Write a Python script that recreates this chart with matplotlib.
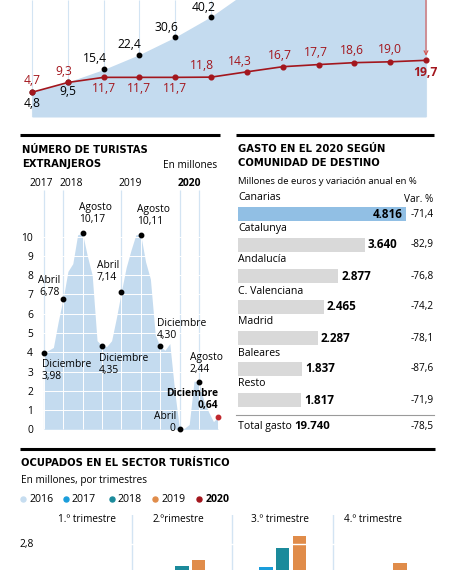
import matplotlib
matplotlib.use("Agg")
import matplotlib.pyplot as plt
from matplotlib import font_manager as fm
import numpy as np

W, H = 449, 570
BODY = ["Open Sans", "DejaVu Sans"]

# fuente de titulos: condensada si la hay
fuentes = fm.fontManager.ttflist
nombres = {f.name for f in fuentes}
if "Liberation Sans Narrow" in nombres:
    TIT_KW = dict(family=["Liberation Sans Narrow", "DejaVu Sans"], fontsize=9)
elif any(f.name == "DejaVu Sans" and f.stretch == "condensed" for f in fuentes):
    TIT_KW = dict(family=["DejaVu Sans"], fontstretch="condensed", fontsize=8.0)
else:
    TIT_KW = dict(family=["Lato", "DejaVu Sans"], fontsize=8.2)

# colores
AZUL_AREA = "#c4dbef"
AZUL_REJ = "#d3e4f3"
ROJO = "#a3161d"
ROJO_FLECHA = "#d4544f"
AZUL_BARRA = "#91bfe4"
GRIS_BARRA = "#d9d9d9"

# ---------------- datos ----------------
# grafico superior (dos series, 12 puntos)
serie_negra = [4.8, 9.5, 15.4, 22.4, 30.6, 40.2, 52.0, 65.0, 79.0, 95.0, 112.0, 130.0]
serie_roja = [4.7, 9.3, 11.7, 11.7, 11.7, 11.8, 14.3, 16.7, 17.7, 18.6, 19.0, 19.7]
etiq_roja = ["4,7", "9,3", "11,7", "11,7", "11,7", "11,8", "14,3", "16,7", "17,7", "18,6", "19,0", "19,7"]
etiq_negra = ["4,8", "9,5", "15,4", "22,4", "30,6", "40,2"]

# turistas extranjeros, mensual dic 2017 - dic 2020 (millones)
turistas = [3.98,
            4.10, 4.25, 5.60, 6.78, 8.20, 8.60, 10.10, 10.17, 9.00, 8.00, 4.60, 4.35,
            4.30, 4.60, 5.80, 7.14, 8.40, 9.30, 10.10, 10.11, 8.70, 7.80, 4.90, 4.30,
            4.10, 4.45, 2.00, 0.00, 0.05, 0.25, 2.50, 2.44, 1.50, 0.90, 0.40, 0.64]
anios = ["2017", "2018", "2019", "2020"]
destacados_mes = [0, 4, 8, 12, 16, 20, 24, 28, 32, 36]
destacados_txt = ["Diciembre\n3,98", "Abril\n6,78", "Agosto\n10,17", "Diciembre\n4,35",
                  "Abril\n7,14", "Agosto\n10,11", "Diciembre\n4,30", "Abril",
                  "Agosto\n2,44", "Diciembre\n0,64"]

# gasto por comunidad 2020
comunidades = ["Canarias", "Catalunya", "Andalucía", "C. Valenciana", "Madrid", "Baleares", "Resto"]
gasto = [4816, 3640, 2877, 2465, 2287, 1837, 1817]
gasto_txt = ["4.816", "3.640", "2.877", "2.465", "2.287", "1.837", "1.817"]
variacion = ["-71,4", "-82,9", "-76,8", "-74,2", "-78,1", "-87,6", "-71,9"]
total_txt = "19.740"
total_var = "-78,5"

# ocupados sector turistico (millones, por trimestre)
trimestres = ["1.º trimestre", "2.ºrimestre", "3.º trimestre", "4.º trimestre"]
anios_ocup = ["2016", "2017", "2018", "2019", "2020"]
colores_ocup = ["#c6ddf0", "#1a9ddb", "#1b8a9b", "#e08c4a", ROJO]
ocup_2016 = [2.15, 2.40, 2.50, 2.30]
ocup_2017 = [2.25, 2.50, 2.573, 2.40]
ocup_2018 = [2.35, 2.58, 2.757, 2.48]
ocup_2019 = [2.40, 2.64, 2.88, 2.613]
ocup_2020 = [2.20, 1.75, 2.05, 2.00]


def caja(izq, arriba, ancho, alto):
    return [izq / W, 1 - (arriba + alto) / H, ancho / W, alto / H]


fig = plt.figure(figsize=(W / 100, H / 100), dpi=100)
fig.patch.set_facecolor("white")

# ---------------- grafico superior ----------------
ax1 = fig.add_axes(caja(20, 0, 420, 117))
paso = 394 / 11
ax1.set_xlim(-12 / paso, 408 / paso)
ax1.set_ylim(-6.9, 48.0)
ax1.axis("off")
x1 = np.arange(len(serie_negra))
ax1.vlines(x1, -6.9, 48.0, color=AZUL_REJ, lw=0.8, zorder=0)
ax1.fill_between(x1, -6.9, serie_negra, color=AZUL_AREA, lw=0, zorder=1)
ax1.plot(x1[:len(etiq_negra)], serie_negra[:len(etiq_negra)], "o", color="black", ms=3.2, zorder=3)
ax1.plot(x1, serie_roja, "-o", color=ROJO, lw=1.2, ms=3.4, zorder=4)
ax1.annotate("", xy=(x1[-1], 21.8), xytext=(x1[-1], 48.5),
             arrowprops=dict(arrowstyle="->", color=ROJO_FLECHA, lw=0.8,
                             shrinkA=0, shrinkB=0, mutation_scale=7), zorder=5)

off_roja = [(0, 11.3), (-3.7, 10.7), (0, -11.3), (0, -11.3), (0, -11.3), (-9.3, 12),
            (-7, 10.3), (-3, 11.3), (-3, 11.7), (-2.3, 12), (-0.7, 12.4), (-1, -11.7)]
for i, (txt, off) in enumerate(zip(etiq_roja, off_roja)):
    ax1.annotate(txt, (x1[i], serie_roja[i]), xytext=off, textcoords="offset pixels",
                 ha="center", va="center", color=ROJO, fontsize=8.7, family=BODY,
                 fontweight="bold" if i == len(etiq_roja) - 1 else "normal", zorder=6)
off_negra = [(0, -11.7), (0, -9), (-9, 11.3), (-10, 9.6), (-8.7, 9.3), (-7.7, 9.3)]
for i, (txt, off) in enumerate(zip(etiq_negra, off_negra)):
    ax1.annotate(txt, (x1[i], serie_negra[i]), xytext=off, textcoords="offset pixels",
                 ha="center", va="center", color="black", fontsize=8.7, family=BODY, zorder=6)

# ---------------- turistas extranjeros ----------------
mes_px = 174.6 / 36
ax2 = fig.add_axes(caja(40, 186, 182, 248))
ax2.set_xlim(-3.7 / mes_px, 178.3 / mes_px)
ax2.set_ylim(-0.244, 12.63)
for s in ax2.spines.values():
    s.set_visible(False)
x2 = np.arange(len(turistas))
ax2.fill_between(x2, 0, turistas, color=AZUL_AREA, lw=0, zorder=1)
for k in range(1, 11):
    ax2.axhline(k, color="white", lw=0.7, zorder=2)
ax2.vlines([0, 4, 16, 28, 32], 0, 12.42, color=AZUL_REJ, lw=0.9, zorder=0)
ax2.vlines(destacados_mes, 0, [turistas[m] for m in destacados_mes], color="white", lw=0.7, zorder=2)
ax2.plot(destacados_mes[:-1], [turistas[m] for m in destacados_mes[:-1]], "o",
         color="black", ms=3.2, zorder=4)
ax2.plot(destacados_mes[-1], turistas[destacados_mes[-1]], "o", color="#c0282d", ms=3.2, zorder=4)
ax2.set_xticks([])
ax2.set_yticks(range(0, 11))
ax2.set_yticklabels([str(k) for k in range(0, 11)], family=BODY, fontsize=7.4)
ax2.tick_params(axis="y", length=0, pad=5)

off_tur = [((-2, -17.5), "left"), ((-13.8, 12), "center"), ((-3.5, 20), "left"),
           ((-2.6, -18.7), "left"), ((-24.6, 20.6), "left"), ((-4, 19.4), "left"),
           ((-2.8, 17.3), "left"), ((-3, 13.2), "right"), ((-8.9, 19), "left"),
           ((0, 17.8), "right")]
for m, txt, (off, ha) in zip(destacados_mes, destacados_txt, off_tur):
    ax2.annotate(txt, (m, turistas[m]), xytext=off, textcoords="offset pixels",
                 ha=ha, va="center", multialignment=ha, family=BODY, linespacing=1.15,
                 fontsize=7.4, fontweight="bold" if m == 36 else "normal", zorder=6)
ax2.annotate("0", (28, turistas[28]), xytext=(-4, 0.5), textcoords="offset pixels",
             ha="right", va="center", fontsize=7.4, family=BODY, zorder=6)

# ---------------- gasto por comunidad ----------------
esc = 0.0348
ax3 = fig.add_axes(caja(238, 190, 202, 220))
ax3.set_xlim(0, 202 / esc)
ax3.set_ylim(196 / 31, -24 / 31)
ax3.axis("off")
filas = np.arange(len(comunidades))
colores_b = [AZUL_BARRA] + [GRIS_BARRA] * (len(comunidades) - 1)
ax3.barh(filas, gasto, height=13.3 / 31, color=colores_b, lw=0)
x_var = (434 - 238) / esc
for r in filas:
    ax3.text(0, r - 16 / 31, comunidades[r], ha="left", va="center", fontsize=7.6, family=BODY)
    if r == 0:
        ax3.annotate(gasto_txt[r], (gasto[r], r), xytext=(-3, 0), textcoords="offset pixels",
                     ha="right", va="center", fontsize=8.4, fontweight="bold", family=BODY)
    else:
        ax3.annotate(gasto_txt[r], (gasto[r], r), xytext=(3, 0), textcoords="offset pixels",
                     ha="left", va="center", fontsize=8.4, fontweight="bold", family=BODY)
    ax3.text(x_var, r, variacion[r], ha="right", va="center", fontsize=7.2, family=BODY)

# ---------------- ocupados sector turistico ----------------
g_px = 100.6
ax4 = fig.add_axes(caja(20, 515, 415, 55))
ax4.set_xlim(-61.5 / g_px, 353.5 / g_px)
ax4.set_ylim(2.54, 3.09)
ax4.axis("off")
g = np.arange(len(trimestres))
series_ocup = [ocup_2016, ocup_2017, ocup_2018, ocup_2019, ocup_2020]
for j, (vals, col) in enumerate(zip(series_ocup, colores_ocup)):
    ax4.bar(g + (j - 2) * 16.7 / g_px, vals, width=13.3 / g_px, color=col, lw=0, zorder=1)
ax4.vlines(g[:-1] + 0.5, 0, 5, color=AZUL_REJ, lw=1, zorder=0)
ax4.axhline(2.8, color="white", lw=1, zorder=2)
ax4.text(-55 / g_px, 2.8, "2,8", ha="center", va="center", fontsize=7.4, family=BODY)

# ---------------- textos y reglas ----------------
ov = fig.add_axes([0, 0, 1, 1], zorder=10)
ov.set_xlim(0, W)
ov.set_ylim(H, 0)
ov.axis("off")

ov.plot([20, 220], [135, 135], color="black", lw=2.2, solid_capstyle="butt")
ov.plot([236, 434], [135, 135], color="black", lw=2.2, solid_capstyle="butt")
ov.plot([20, 435], [448.7, 448.7], color="black", lw=2.2, solid_capstyle="butt")
ov.plot([236, 434], [415, 415], color="#9a9a9a", lw=0.8)

tit = dict(fontweight="bold", va="center", ha="left", **TIT_KW)
ov.text(22, 150, "NÚMERO DE TURISTAS", **tit)
ov.text(22, 164.3, "EXTRANJEROS", **tit)
ov.text(217.5, 166, "En millones", ha="right", va="center", fontsize=7.2, family=BODY)
for txt, xp in zip(anios, [41.7, 71.7, 130, 189.3]):
    ov.text(xp, 183, txt, ha="center", va="center", fontsize=7.4, family=BODY,
            fontweight="bold" if txt == "2020" else "normal")

ov.text(238, 149, "GASTO EN EL 2020 SEGÚN", **tit)
ov.text(238, 163.3, "COMUNIDAD DE DESTINO", **tit)
ov.text(238, 181.7, "Millones de euros y variación anual en %", ha="left", va="center",
        fontsize=6.8, family=BODY)
ov.text(433.5, 200, "Var. %", ha="right", va="center", fontsize=7.2, family=BODY)
t_total = ov.text(238, 426.7, "Total gasto ", ha="left", va="center", fontsize=7.6, family=BODY)
ov.annotate(total_txt, xy=(1, 0), xycoords=t_total, ha="left", va="bottom",
            fontsize=8.2, fontweight="bold", family=BODY)
ov.text(434, 426.7, total_var, ha="right", va="center", fontsize=7.2, family=BODY)

ov.text(21, 463.3, "OCUPADOS EN EL SECTOR TURÍSTICO", **tit)
ov.text(21, 480.7, "En millones, por trimestres", ha="left", va="center", fontsize=7.2, family=BODY)
for txt, col, xp in zip(anios_ocup, colores_ocup, [23.3, 65.7, 111.7, 155, 199.3]):
    ov.plot(xp, 499.3, "o", color=col, ms=3.6)
    ov.text(xp + 6, 499.3, txt, ha="left", va="center", fontsize=7.6, family=BODY,
            fontweight="bold" if txt == "2020" else "normal")
for txt, xp in zip(trimestres, [86.7, 178.3, 280, 373.3]):
    ov.text(xp, 520, txt, ha="center", va="center", fontsize=7.2, family=BODY)

fig.savefig("out.png", dpi=100)
